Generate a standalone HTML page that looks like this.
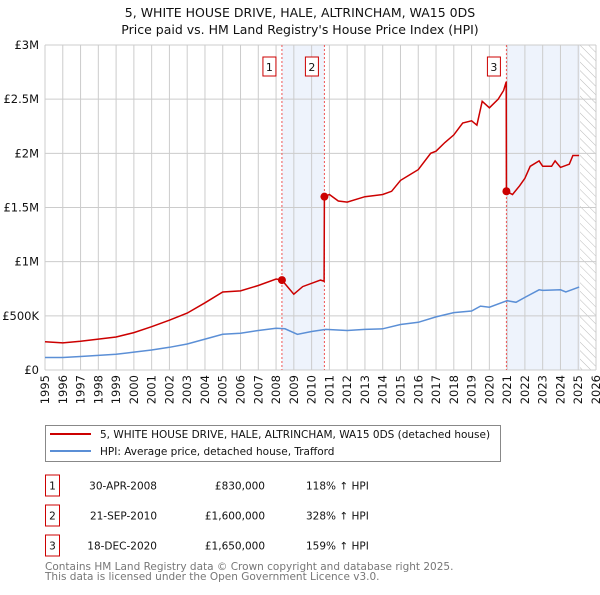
<!DOCTYPE html>
<html><head><meta charset="utf-8"><style>
body{margin:0;background:#fff;font-family:"Liberation Sans","DejaVu Sans",sans-serif;}
svg text{font-family:"DejaVu Sans","Liberation Sans",sans-serif;}
</style></head><body>
<svg id="c" width="600" height="590" viewBox="0 0 600 590"></svg>
<script>
const redYears=[1995,1996,1997,1998,1999,2000,2001,2002,2003,2004,2005,2006,2007,2008,2008.33,2009,2009.5,2010.5,2010.7,2010.72,2011,2011.5,2012,2013,2014,2014.5,2015,2015.5,2016,2016.7,2017,2017.5,2018,2018.5,2019,2019.3,2019.6,2020,2020.5,2020.8,2020.95,2020.96,2021.3,2021.7,2022,2022.3,2022.8,2023,2023.5,2023.7,2024,2024.5,2024.7,2025.05];
const redValues=[260,250,265,285,305,345,400,460,525,620,720,730,780,840,830,700,770,830,820,1600,1620,1560,1550,1600,1620,1650,1750,1800,1850,2000,2020,2100,2170,2280,2300,2260,2480,2420,2500,2580,2660,1650,1620,1700,1770,1880,1930,1880,1880,1930,1870,1900,1980,1980];
const hpiYears=[1995,1996,1997,1998,1999,2000,2001,2002,2003,2004,2005,2006,2007,2008,2008.5,2009.2,2010,2010.8,2012,2013,2014,2015,2016,2017,2018,2019,2019.5,2020,2021,2021.5,2022,2022.8,2023,2024,2024.3,2025.05];
const hpiValues=[115,115,125,135,145,165,185,210,240,285,330,340,365,385,380,330,355,375,365,375,380,420,440,490,530,545,590,580,640,625,670,740,735,740,720,765];
const saleYears=[2008.33,2010.72,2020.96];
const saleValues=[830,1600,1650];
const saleLabels=["1","2","3"];
const yTicks=[0,500,1000,1500,2000,2500,3000];
const yTickLabels=["£0","£500K","£1M","£1.5M","£2M","£2.5M","£3M"];
const xTicks=[];for(let y=1995;y<=2026;y++)xTicks.push(y);

const X0=45,X1=596,Y0=370,Y1=45;
const xs=y=>X0+(y-1995)*(X1-X0)/31;
const ys=v=>Y0-v*(Y0-Y1)/3000;
const NS="http://www.w3.org/2000/svg";
const svg=document.getElementById('c');
function el(t,a,p){const e=document.createElementNS(NS,t);for(const k in a)e.setAttribute(k,a[k]);(p||svg).appendChild(e);return e;}

let t=el('text',{x:300,y:17,'text-anchor':'middle','font-size':12.5,fill:'#111'});t.textContent="5, WHITE HOUSE DRIVE, HALE, ALTRINCHAM, WA15 0DS";

t=el('text',{x:300,y:34,'text-anchor':'middle','font-size':12.5,fill:'#111'});t.textContent="Price paid vs. HM Land Registry's House Price Index (HPI)";


let r=el('rect',{x:xs(saleYears[0]),y:Y1,width:xs(saleYears[1])-xs(saleYears[0]),height:Y0-Y1,fill:'#eef3fc'});

r=el('rect',{x:xs(saleYears[2]),y:Y1,width:xs(2025.1)-xs(saleYears[2]),height:Y0-Y1,fill:'#eef3fc'});

const defs=el('defs',{});const pat=el('pattern',{id:'h',width:6,height:6,patternUnits:'userSpaceOnUse',patternTransform:'rotate(-45)'},defs);
el('line',{x1:0,y1:0,x2:0,y2:6,stroke:'#bbb','stroke-width':1},pat);
r=el('rect',{x:xs(2025.1),y:Y1,width:X1-xs(2025.1),height:Y0-Y1,fill:'url(#h)'});


xTicks.forEach(y=>{const l=el('line',{x1:xs(y),x2:xs(y),y1:Y1,y2:Y0,stroke:'#ccc','stroke-width':1});

const tx=el('text',{transform:`translate(${xs(y)+4},${Y0+5}) rotate(-90)`,'text-anchor':'end','font-size':11.5,fill:'#111'});tx.textContent=y;
});
yTicks.forEach((v,i)=>{const l=el('line',{x1:X0,x2:X1,y1:ys(v),y2:ys(v),stroke:'#ccc','stroke-width':1});

const tx=el('text',{x:X0-6,y:ys(v)+4,'text-anchor':'end','font-size':11.5,fill:'#111'});tx.textContent=yTickLabels[i];
});

saleYears.forEach((y,i)=>{const l=el('line',{x1:xs(y),x2:xs(y),y1:Y1,y2:Y0,stroke:'#e55','stroke-width':1,'stroke-dasharray':'2,2'});

const g=el('g',{});
el('rect',{x:xs(y)-19,y:57,width:13,height:19,fill:'#fff',stroke:'#c00','stroke-width':1},g);
const tx=el('text',{x:xs(y)-12.5,y:71,'text-anchor':'middle','font-size':11,fill:'#111'},g);tx.textContent=saleLabels[i];});

const pts=(a,b)=>a.map((y,i)=>xs(y).toFixed(1)+','+ys(b[i]).toFixed(1)).join(' ');
let p=el('polyline',{points:pts(hpiYears,hpiValues),fill:'none',stroke:'#5b8fd6','stroke-width':1.5});

p=el('polyline',{points:pts(redYears,redValues),fill:'none',stroke:'#cc0000','stroke-width':1.5});

saleYears.forEach((y,i)=>{const c=el('circle',{cx:xs(y),cy:ys(saleValues[i]),r:4,fill:'#cc0000'});
});

const lg=el('g',{});
el('rect',{x:45.5,y:425.5,width:455,height:36,fill:'#fff',stroke:'#888'},lg);
el('line',{x1:50,x2:91,y1:434,y2:434,stroke:'#cc0000','stroke-width':2},lg);
el('line',{x1:50,x2:91,y1:451,y2:451,stroke:'#5b8fd6','stroke-width':2},lg);
t=el('text',{x:100,y:438,'font-size':10.5,fill:'#111'},lg);t.textContent="5, WHITE HOUSE DRIVE, HALE, ALTRINCHAM, WA15 0DS (detached house)";
t=el('text',{x:100,y:455,'font-size':10.5,fill:'#111'},lg);t.textContent="HPI: Average price, detached house, Trafford";

const rows=[["1","30-APR-2008","£830,000","118% ↑ HPI"],["2","21-SEP-2010","£1,600,000","328% ↑ HPI"],["3","18-DEC-2020","£1,650,000","159% ↑ HPI"]];
rows.forEach((rw,i)=>{const yy=485.5+i*30;const g=el('g',{});
el('rect',{x:45.5,y:yy-10.5,width:14,height:21,fill:'#fff',stroke:'#c00'},g);
let a=el('text',{x:52.5,y:yy+4,'text-anchor':'middle','font-size':10.5,fill:'#111'},g);a.textContent=rw[0];
a=el('text',{x:157,y:yy+4,'text-anchor':'end','font-size':10.5,fill:'#111'},g);a.textContent=rw[1];
a=el('text',{x:265,y:yy+4,'text-anchor':'end','font-size':10.5,fill:'#111'},g);a.textContent=rw[2];
a=el('text',{x:306,y:yy+4,'font-size':10.5,fill:'#111'},g);a.textContent=rw[3];});
t=el('text',{x:45,y:570,'font-size':10.5,fill:'#777'});t.textContent="Contains HM Land Registry data © Crown copyright and database right 2025.";

t=el('text',{x:45,y:580,'font-size':10.5,fill:'#777'});t.textContent="This data is licensed under the Open Government Licence v3.0.";

</script>
</body></html>
